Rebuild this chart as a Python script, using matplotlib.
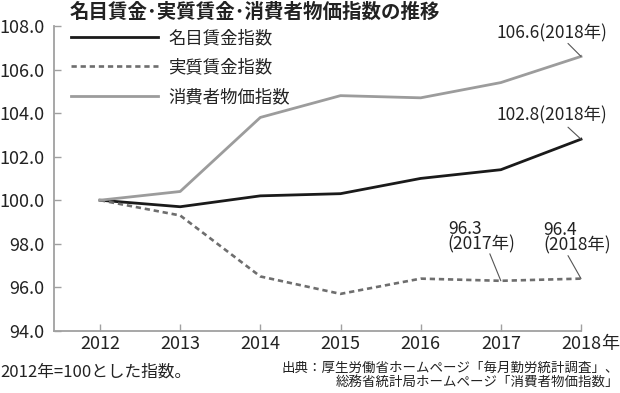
import matplotlib
matplotlib.use('Agg')
import matplotlib.pyplot as plt
from matplotlib.ticker import FormatStrFormatter

plt.rcParams['font.family'] = ['Noto Sans CJK JP', 'DejaVu Sans']

years = [2012, 2013, 2014, 2015, 2016, 2017, 2018]
nominal = [100.0, 99.7, 100.2, 100.3, 101.0, 101.4, 102.8]
real = [100.0, 99.3, 96.5, 95.7, 96.4, 96.3, 96.4]
cpi = [100.0, 100.4, 103.8, 104.8, 104.7, 105.4, 106.6]
series_labels = ['名目賃金指数', '実質賃金指数', '消費者物価指数']
yticks = [94, 96, 98, 100, 102, 104, 106, 108]
xtick_labels = ['2012', '2013', '2014', '2015', '2016', '2017', '2018']
title = '名目賃金･実質賃金･消費者物価指数の推移'
note = '2012年=100とした指数。'
source = '出典：厚生労働省ホームページ「毎月勤労統計調査」、\n総務省統計局ホームページ「消費者物価指数」'

TXT = '#222222'
AX = '#a0a0a0'

fig = plt.figure(figsize=(6.2, 3.93), dpi=100)
ax = fig.add_axes([0.0876, 0.158, 0.8495, 0.776])

ax.plot(years, nominal, color='#1a1a1a', lw=2.0, label=series_labels[0], clip_on=False)
ax.plot(years, real, color='#6e6e6e', lw=1.9, ls=(0, (2.0, 1.45)), label=series_labels[1], clip_on=False)
ax.plot(years, cpi, color='#9c9c9c', lw=2.0, label=series_labels[2], clip_on=False)

ax.set_xlim(2011.43, 2018)
ax.set_ylim(94, 108)
ax.set_yticks(yticks)
ax.yaxis.set_major_formatter(FormatStrFormatter('%.1f'))
ax.set_xticks(years)
ax.set_xticklabels(xtick_labels)

for s in ['top', 'right']:
    ax.spines[s].set_visible(False)
for s in ['left', 'bottom']:
    ax.spines[s].set_color(AX)
    ax.spines[s].set_linewidth(1.3)
ax.tick_params(axis='both', direction='in', length=5, width=1.0, color=AX,
               labelcolor=TXT, labelsize=13)
ax.tick_params(axis='y', pad=7)
ax.tick_params(axis='x', pad=3)

leg = ax.legend(loc='upper left', bbox_to_anchor=(0.032, 0.99), frameon=False,
                fontsize=12.5, handlelength=5.0, handletextpad=0.6,
                borderpad=0, borderaxespad=0, labelspacing=0.66)
for t in leg.get_texts():
    t.set_color(TXT)

# last x tick label suffix
fig.canvas.draw()
last = ax.get_xticklabels()[-1]
ax.annotate('年', xy=(1, 0.5), xycoords=last, ha='left', va='center',
            fontsize=13, color=TXT)

lead = dict(arrowstyle='-', color='#555555', lw=0.8, shrinkA=0, shrinkB=0)
# leader lines
ax.annotate('', xy=(2018, cpi[-1]), xytext=(-13, 13), textcoords='offset pixels', arrowprops=lead)
ax.annotate('', xy=(2018, nominal[-1]), xytext=(-13, 12), textcoords='offset pixels', arrowprops=lead)
ax.annotate('', xy=(2017, real[-2]), xytext=(-11, 27), textcoords='offset pixels', arrowprops=lead)
ax.annotate('', xy=(2018, real[-1]), xytext=(-13, 23), textcoords='offset pixels', arrowprops=lead)

# value labels
ax.annotate(f'{cpi[-1]:.1f}(2018年)', xy=(2018, cpi[-1]), xytext=(-85, 23),
            textcoords='offset pixels', ha='left', va='center', fontsize=12.5, color=TXT,
            annotation_clip=False)
ax.annotate(f'{nominal[-1]:.1f}(2018年)', xy=(2018, nominal[-1]), xytext=(-85, 24),
            textcoords='offset pixels', ha='left', va='center', fontsize=12.5, color=TXT,
            annotation_clip=False)
ax.annotate(f'{real[-2]:.1f}\n(2017年)', xy=(2017, real[-2]), xytext=(-53, 44),
            textcoords='offset pixels', ha='left', va='center', fontsize=12.5, color=TXT,
            linespacing=0.86, annotation_clip=False)
ax.annotate(f'{real[-1]:.1f}\n(2018年)', xy=(2018, real[-1]), xytext=(-38, 41),
            textcoords='offset pixels', ha='left', va='center', fontsize=12.5, color=TXT,
            linespacing=0.86, annotation_clip=False)

fig.text(70 / 620, 1 - 12 / 393, title, fontsize=14, fontweight='bold', va='center', color=TXT)
fig.text(0.0, 1 - 372 / 393, note, fontsize=12, va='center', ha='left', color=TXT)
fig.text(619 / 620, 1 - 375 / 393, source, fontsize=9.7, va='center', ha='right',
         multialignment='right', linespacing=1.05, color=TXT)

fig.savefig('out.png', dpi=100)
